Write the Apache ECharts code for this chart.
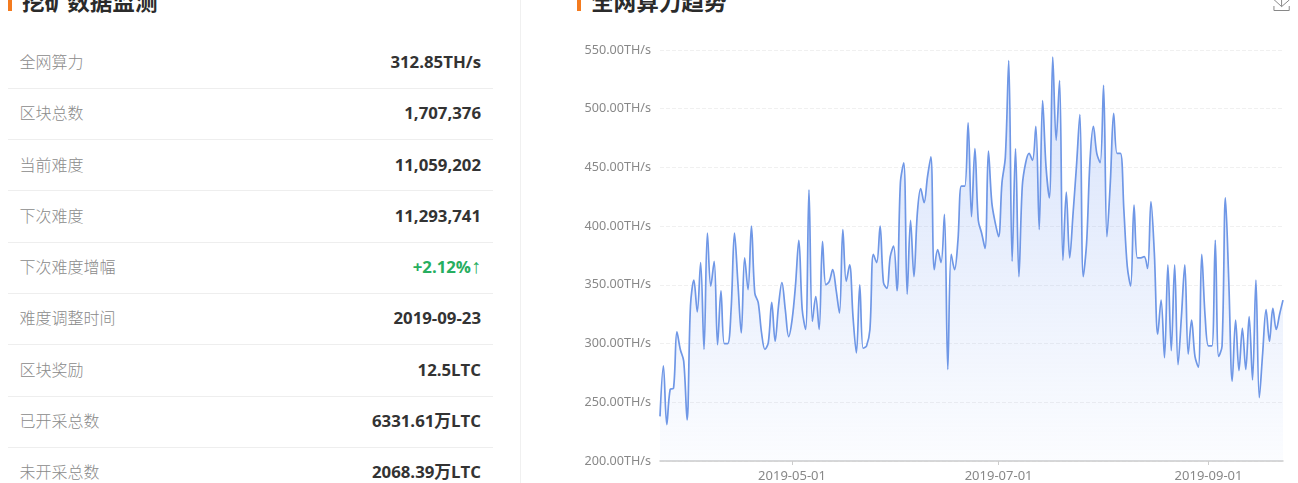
<!DOCTYPE html>
<html>
<head>
<meta charset="utf-8">
<script src="https://cdn.jsdelivr.net/npm/echarts@6/dist/echarts.min.js"></script>
<style>
html,body{margin:0;padding:0;background:#fff;width:1298px;height:483px;overflow:hidden;font-family:"Noto Sans CJK SC","Noto Sans",sans-serif;}
.bar{position:absolute;width:4px;height:12px;top:-1px;background:#f47b1f;}
.title{position:absolute;top:-11px;font-size:22.6px;line-height:24px;font-weight:700;color:#2b2b2b;white-space:nowrap;}
.divider{position:absolute;left:520px;top:0;width:1px;height:483px;background:#f0f0f0;}
.row{position:absolute;left:8px;width:485px;height:51px;}
.row .l{position:absolute;left:11.5px;top:-1px;line-height:51px;font-size:16px;font-weight:300;color:#8a8a8a;}
.row .v{position:absolute;right:12px;top:-1px;line-height:51px;font-size:16.8px;font-weight:700;color:#333;font-family:"Open Sans","Noto Sans CJK SC",sans-serif;}
.row .v .arrow{font-family:"Liberation Sans",sans-serif;font-weight:700;font-size:20px;line-height:0;}
.sep{position:absolute;left:8px;width:485px;height:1px;background:#eeeeee;}
#chart{position:absolute;left:550px;top:-20px;width:768px;height:503px;}
</style>
</head>
<body>
<div class="bar" style="left:8px"></div>
<div class="title" style="left:22px">挖矿数据监测</div>
<div class="divider"></div>
<div id="rows"></div>
<div class="bar" style="left:577px"></div>
<div class="title" style="left:591px">全网算力趋势</div>
<div id="chart"></div>
<script>
var statLabels = ['全网算力','区块总数','当前难度','下次难度','下次难度增幅','难度调整时间','区块奖励','已开采总数','未开采总数'];
var statValues = ['312.85TH/s','1,707,376','11,059,202','11,293,741','+2.12%↑','2019-09-23','12.5LTC','6331.61万LTC','2068.39万LTC'];
var rowCentres = [62,113,165,216,267,318,370,421,472];
var sepTops = [88,139,190,242,293,344,396,447];

var monthLengths = [['2019-03',23,31],['2019-04',1,30],['2019-05',1,31],['2019-06',1,30],['2019-07',1,31],['2019-08',1,31],['2019-09',1,23]];
var labelDates = ['2019-05-01','2019-07-01','2019-09-01'];
var yTicks = {min:200,max:550,interval:50};
var hashrate = [
238,281,231,261,262,310,295,285,235,332,
354,327,369,295,394,349,370,299,345,300,
300,329,394,352,309,373,346,400,343,335,
309,295,301,335,302,332,352,329,306,320,
349,388,329,312,431,319,340,312,387,350,
353,363,346,326,397,353,367,323,292,350,
296,298,312,376,369,400,352,347,374,383,
345,437,454,342,405,357,411,432,420,442,
459,363,380,369,410,278,376,363,388,434,
434,488,408,466,405,394,381,464,420,403,
391,437,459,541,370,466,357,434,454,462,
456,485,397,507,451,424,544,473,524,371,
429,373,411,451,495,357,386,456,485,462,
454,520,391,437,496,462,462,414,366,349,
418,373,373,374,364,421,377,308,337,288,
367,294,367,282,323,367,291,320,289,280,
376,323,298,298,388,289,298,424,352,268,
320,277,313,278,323,269,354,254,292,329,
302,330,312,325,337];

var dates = [];
monthLengths.forEach(function(m){
  for (var d = m[1]; d <= m[2]; d++) dates.push(m[0] + '-' + (d < 10 ? '0' + d : d));
});

var html = '';
statLabels.forEach(function(l,i){
  var green = statValues[i].charAt(0) === '+';
  html += '<div class="row" style="top:' + (rowCentres[i]-25.5) + 'px"><span class="l">' + l + '</span><span class="v"' +
    (green ? ' style="color:#27ae60"' : '') + '>' + statValues[i].replace('↑','<span class="arrow">↑</span>') + '</span></div>';
});
sepTops.forEach(function(t){ html += '<div class="sep" style="top:' + t + 'px"></div>'; });
document.getElementById('rows').innerHTML = html;

var chart = echarts.init(document.getElementById('chart'));
var showLabel = function(i, v){ return labelDates.indexOf(v) >= 0; };
chart.setOption({
  animation:false,
  grid:{left:110,right:35,top:70,height:411.5,containLabel:false},
  toolbox:{right:11,top:-5,itemSize:18,feature:{saveAsImage:{title:'',iconStyle:{borderColor:'#888'}}}},
  xAxis:{type:'category',data:dates,boundaryGap:false,
    axisLine:{lineStyle:{color:'#ccc',width:1.5}},
    axisTick:{alignWithLabel:true,length:4,interval:showLabel,lineStyle:{color:'#ccc'}},
    axisLabel:{interval:showLabel,color:'#888',fontSize:13,margin:9,fontFamily:'Noto Sans'},
    splitLine:{show:false}},
  yAxis:{type:'value',min:yTicks.min,max:yTicks.max,interval:yTicks.interval,
    axisLine:{show:false},axisTick:{show:false},
    axisLabel:{color:'#888',fontSize:12.6,margin:9,fontFamily:'Noto Sans',formatter:function(v){return v.toFixed(2)+'TH/s';}},
    splitLine:{lineStyle:{type:'dashed',color:'#f0f0f0'}}},
  series:[{type:'line',data:hashrate,smooth:0.35,showSymbol:false,symbol:'none',
    lineStyle:{color:'#6f97e6',width:1.7},
    areaStyle:{color:new echarts.graphic.LinearGradient(0,0,0,1,[{offset:0,color:'rgba(150,180,245,0.55)'},{offset:1,color:'rgba(150,180,245,0.05)'}])}}]
});
</script>
</body>
</html>
